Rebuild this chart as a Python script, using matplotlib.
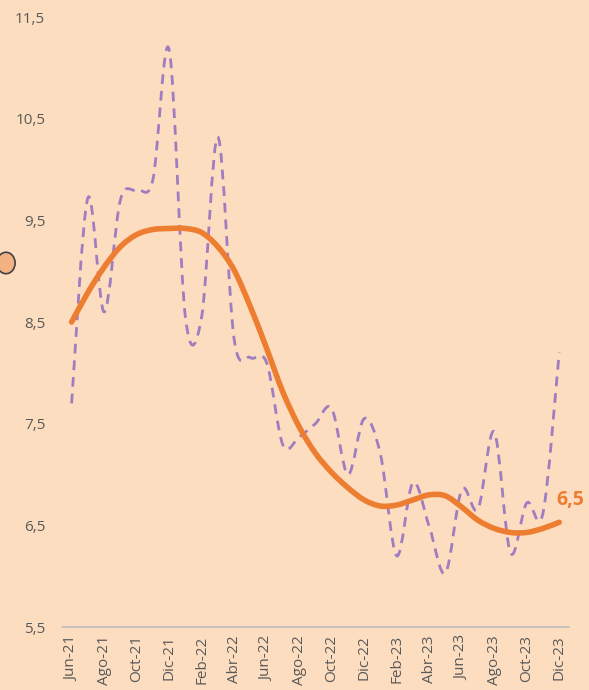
import matplotlib.pyplot as plt
from matplotlib.path import Path
from matplotlib.patches import PathPatch, Circle

plt.rcParams['font.family'] = ['Open Sans', 'DejaVu Sans']

# Monthly data, Jun-21 .. Dic-23
monthly = [7.7, 9.72, 8.6, 9.7, 9.8, 9.9, 11.18, 8.55, 8.55, 10.32,
           8.33, 8.15, 8.1, 7.29, 7.37, 7.5, 7.65, 7.0, 7.55, 7.2,
           6.2, 6.92, 6.49, 6.03, 6.85, 6.66, 7.42, 6.23, 6.72, 6.62, 8.2]
trend = [8.5, 8.79, 9.04, 9.24, 9.36, 9.41, 9.42, 9.42, 9.38, 9.24,
         9.01, 8.65, 8.24, 7.81, 7.47, 7.21, 7.02, 6.87, 6.75, 6.69,
         6.70, 6.75, 6.80, 6.79, 6.68, 6.55, 6.47, 6.43, 6.43, 6.47, 6.53]
tick_labels = ['Jun-21', 'Ago-21', 'Oct-21', 'Dic-21', 'Feb-22', 'Abr-22',
               'Jun-22', 'Ago-22', 'Oct-22', 'Dic-22', 'Feb-23', 'Abr-23',
               'Jun-23', 'Ago-23', 'Oct-23', 'Dic-23']
end_label = '6,5'

bg = '#FDDDBF'
orange = '#ED7D31'
purple = '#A07CC0'


def smooth_path(ys):
    # Bezier path through the points (Excel-style smoothed line)
    xs = list(range(len(ys)))
    n = len(ys)
    verts = [(xs[0], ys[0])]
    codes = [Path.MOVETO]
    for i in range(n - 1):
        x0, y0 = xs[max(i - 1, 0)], ys[max(i - 1, 0)]
        x1, y1 = xs[i], ys[i]
        x2, y2 = xs[i + 1], ys[i + 1]
        x3, y3 = xs[min(i + 2, n - 1)], ys[min(i + 2, n - 1)]
        c1 = (x1 + (x2 - x0) / 6, y1 + (y2 - y0) / 6)
        c2 = (x2 - (x3 - x1) / 6, y2 - (y3 - y1) / 6)
        verts += [c1, c2, (x2, y2)]
        codes += [Path.CURVE4] * 3
    return Path(verts, codes)


fig = plt.figure(figsize=(5.89, 6.90), dpi=100, facecolor=bg)
ax = fig.add_axes([0.105, 0.0913, 0.861, 0.884])
ax.set_facecolor(bg)

ax.add_patch(PathPatch(smooth_path(monthly), fill=False, edgecolor=purple,
                       lw=2, linestyle=(0, (3.5, 2.5)), capstyle='butt'))
ax.add_patch(PathPatch(smooth_path(trend), fill=False, edgecolor=orange,
                       lw=4, capstyle='round'))

ax.text(len(trend) - 1 - 0.2, trend[-1] + 0.22, end_label, color=orange,
        fontsize=14, fontweight='bold', ha='left', va='center')

ax.set_xlim(-0.6, len(monthly) - 0.4)
ax.set_ylim(5.5, 11.5)
ax.set_yticks([5.5, 6.5, 7.5, 8.5, 9.5, 10.5, 11.5])
ax.set_yticklabels(['5,5', '6,5', '7,5', '8,5', '9,5', '10,5', '11,5'])
ax.set_xticks(range(0, len(monthly), 2))
ax.set_xticklabels(tick_labels, rotation=90)
ax.tick_params(axis='both', length=0, labelcolor='#595959', labelsize=11)
ax.tick_params(axis='y', pad=12)
ax.tick_params(axis='x', pad=6)

for s in ['top', 'right', 'left']:
    ax.spines[s].set_visible(False)
ax.spines['bottom'].set_color('#BFBFBF')
ax.spines['bottom'].set_linewidth(1.2)

# partially visible marker on the left edge
fig.patches.append(Circle((6 / 589, 1 - 263 / 690), 0.0155, transform=fig.transFigure,
                          facecolor='#F4B183', edgecolor='#404040', lw=1.2))

fig.savefig('out.png', dpi=100, facecolor=bg)
